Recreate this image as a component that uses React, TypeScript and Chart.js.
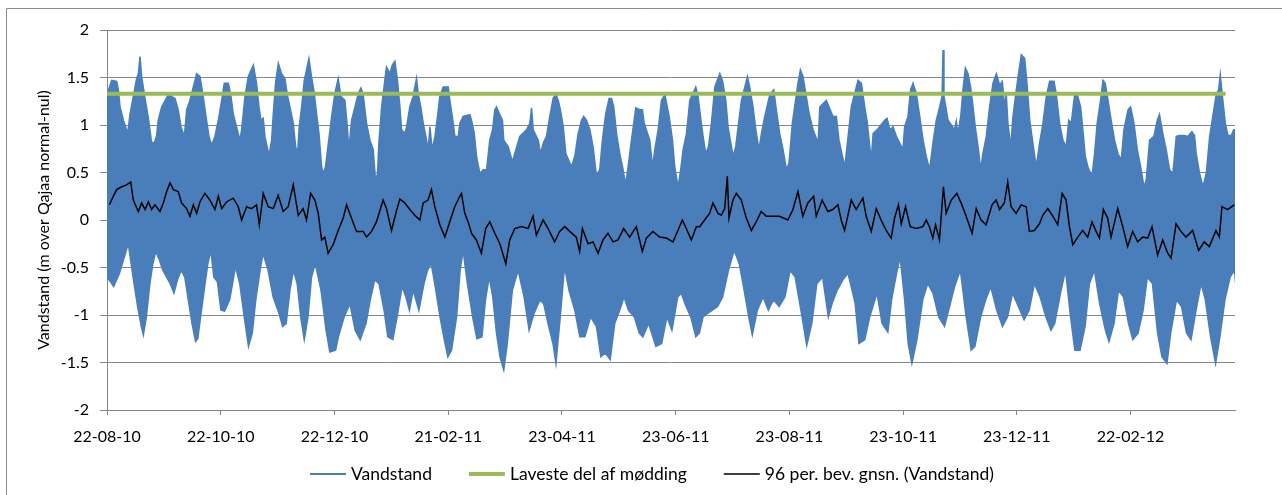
import React, { useEffect, useRef } from 'react';
import { Chart, registerables } from 'chart.js';

Chart.register(...registerables);

// X axis: days since 22-08-10, labels every 61 days
const tickLabels = ['22-08-10', '22-10-10', '22-12-10', '21-02-11', '23-04-11', '23-06-11', '23-08-11', '23-10-11', '23-12-11', '22-02-12'];
const tickStepDays = 61;
const xMaxDays = 605;

// Vandstand: upper envelope (high waters), days / metres
const upperDays = [
  0, 2.5, 5.2, 6.1, 7.0, 8.8, 10.5, 11.1, 12.3, 14.1,
  15.9, 16.8, 17.7, 18.6, 20.4, 22.2, 23.9, 25.4, 26.6, 27.5,
  29.3, 32.9, 36.5, 38.2, 39.7, 41.5, 42.7, 44.5, 46.3, 48.1,
  49.9, 51.6, 53.4, 54.7, 56.1, 57.9, 59.7, 61.5, 62.9, 65.1,
  66.5, 67.7, 69.5, 71.3, 72.2, 74.0, 75.8, 78.5, 80.2, 81.5,
  82.6, 83.8, 84.7, 86.9, 88.3, 89.2, 90.4, 91.9, 93.6, 95.4,
  96.9, 98.1, 99.9, 101.2, 102.2, 103.1, 104.4, 105.8, 108.3, 109.7,
  111.2, 112.4, 113.7, 115.1, 116.0, 117.2, 118.3, 120.5, 122.2, 124.0,
  125.5, 127.6, 128.9, 129.7, 131.2, 133.0, 134.7, 136.2, 137.4, 139.2,
  141.0, 142.8, 144.0, 145.1, 145.8, 147.3, 149.0, 149.9, 151.7, 153.0,
  154.4, 155.8, 157.1, 158.0, 159.8, 160.7, 162.4, 164.2, 166.0, 166.9,
  168.3, 169.6, 171.4, 172.3, 173.2, 174.4, 175.9, 177.3, 178.5, 180.3,
  183.0, 183.9, 185.7, 186.6, 188.4, 189.3, 191.0, 194.6, 195.5, 197.0,
  198.2, 200.0, 201.8, 203.6, 205.3, 206.8, 208.0, 208.9, 211.1, 212.1,
  212.8, 215.2, 217.5, 218.7, 221.4, 225.0, 226.8, 227.7, 228.6, 231.3,
  232.5, 234.0, 235.7, 237.5, 239.3, 240.7, 242.0, 243.2, 244.7, 246.1,
  249.1, 250.9, 252.7, 254.5, 255.7, 257.2, 259.0, 260.7, 262.5, 264.3,
  265.7, 267.5, 269.3, 270.6, 271.8, 273.3, 275.0, 276.8, 278.1, 279.5,
  281.3, 283.6, 285.8, 287.2, 288.1, 291.1, 292.6, 293.8, 295.6, 297.4,
  299.2, 301.5, 303.3, 304.5, 306.3, 307.7, 309.0, 310.8, 312.6, 315.8,
  317.0, 318.3, 319.7, 321.1, 322.6, 324.2, 326.0, 328.7, 330.1, 331.9,
  333.1, 335.8, 337.2, 338.5, 340.3, 343.5, 344.7, 346.5, 348.0, 349.7,
  351.0, 352.8, 355.5, 357.6, 359.0, 360.8, 362.6, 364.4, 365.8, 367.6,
  370.6, 371.9, 373.3, 374.8, 376.6, 378.7, 381.4, 382.3, 385.8, 389.4,
  391.2, 392.6, 395.7, 397.5, 399.2, 401.0, 402.8, 404.6, 406.4, 407.8,
  409.9, 410.9, 413.5, 417.1, 418.4, 419.8, 421.6, 423.4, 426.9, 427.8,
  429.6, 431.0, 432.3, 434.1, 435.9, 437.7, 439.4, 441.2, 443.0, 444.8,
  446.6, 447.9, 448.4, 448.9, 451.1, 454.6, 455.5, 456.4, 457.9, 459.1,
  460.4, 461.8, 463.2, 464.5, 465.7, 467.2, 468.6, 469.8, 471.6, 473.4,
  475.2, 477.0, 478.8, 480.2, 481.4, 482.3, 483.2, 484.7, 485.9, 487.7,
  488.9, 490.4, 492.2, 493.6, 494.9, 496.6, 498.4, 500.2, 502.0, 503.8,
  505.6, 507.9, 509.1, 510.9, 512.7, 514.5, 515.8, 517.2, 519.0, 520.4,
  522.2, 523.4, 524.7, 526.1, 528.3, 529.7, 531.1, 532.9, 534.2, 535.4,
  536.9, 538.6, 540.4, 542.2, 544.0, 545.4, 547.6, 549.0, 550.8, 552.6,
  554.4, 556.2, 557.4, 559.2, 561.5, 563.3, 564.5, 566.3, 568.1, 569.9,
  571.7, 573.5, 575.3, 577.9, 579.7, 581.9, 583.3, 584.2, 586.0, 587.8,
  589.6, 591.4, 593.1, 594.9, 596.2, 597.1, 598.1, 599.8, 601.2, 603.0,
  604.3, 605.6,
];
const upperVals = [
  1.32, 1.47, 1.46, 1.37, 1.19, 1.05, 0.95, 0.91, 1.11, 1.30,
  1.49, 1.54, 1.72, 1.51, 1.28, 1.07, 0.82, 0.81, 0.89, 1.05,
  1.19, 1.32, 1.28, 1.16, 0.98, 0.88, 1.16, 1.26, 1.40, 1.54,
  1.51, 1.30, 1.05, 0.88, 0.79, 0.88, 1.05, 1.26, 1.44, 1.44,
  1.30, 1.12, 0.98, 0.84, 0.95, 1.30, 1.51, 1.63, 1.44, 1.19,
  1.05, 1.07, 0.88, 0.68, 0.84, 1.12, 1.44, 1.65, 1.54, 1.49,
  1.30, 1.19, 1.02, 0.77, 0.70, 0.98, 1.19, 1.47, 1.70, 1.51,
  1.33, 1.12, 0.91, 0.56, 0.49, 0.56, 0.74, 1.09, 1.33, 1.49,
  1.30, 1.26, 0.98, 0.74, 1.05, 1.19, 1.33, 1.39, 1.32, 1.02,
  0.84, 0.74, 0.42, 0.49, 0.81, 1.19, 1.47, 1.61, 1.54, 1.63,
  1.67, 1.47, 1.19, 0.95, 0.91, 0.98, 1.19, 1.30, 1.49, 1.33,
  1.19, 1.02, 0.84, 0.74, 0.98, 0.74, 0.88, 1.09, 1.30, 1.40,
  1.40, 1.26, 1.02, 0.88, 0.88, 1.02, 1.09, 1.11, 1.05, 0.91,
  0.67, 0.49, 0.53, 0.53, 0.84, 0.95, 1.16, 1.19, 1.09, 1.05,
  0.84, 0.77, 0.61, 0.70, 0.88, 0.95, 1.02, 1.18, 0.95, 0.84,
  0.70, 0.81, 0.88, 1.09, 1.28, 1.32, 1.26, 1.16, 0.98, 0.70,
  0.56, 0.67, 0.91, 1.05, 1.09, 1.05, 0.95, 0.77, 0.47, 0.53,
  0.84, 1.12, 1.28, 1.28, 1.19, 0.91, 0.70, 0.53, 0.37, 0.56,
  0.84, 1.18, 1.16, 1.16, 1.02, 0.84, 0.56, 0.74, 0.95, 1.26,
  1.32, 1.09, 0.84, 0.56, 0.35, 0.53, 0.74, 0.91, 1.26, 1.40,
  1.30, 1.09, 0.88, 0.70, 0.77, 1.02, 1.40, 1.54, 1.47, 1.26,
  0.98, 0.67, 0.77, 0.98, 1.26, 1.51, 1.40, 1.19, 0.95, 0.74,
  0.91, 1.09, 1.32, 1.37, 1.16, 0.91, 0.74, 0.53, 0.60, 1.02,
  1.44, 1.58, 1.51, 1.33, 1.12, 0.95, 0.81, 1.19, 1.26, 1.09,
  1.09, 0.84, 0.56, 0.88, 1.19, 1.33, 1.47, 1.44, 1.19, 1.02,
  0.63, 0.91, 0.96, 1.05, 1.07, 0.95, 0.98, 0.88, 0.74, 0.98,
  1.09, 1.37, 1.44, 1.33, 1.09, 0.84, 0.67, 0.53, 0.81, 1.05,
  1.19, 1.30, 1.79, 1.30, 1.05, 0.95, 1.04, 0.91, 1.09, 1.37,
  1.60, 1.54, 1.40, 1.19, 0.98, 0.77, 0.53, 0.70, 0.88, 1.19,
  1.44, 1.54, 1.42, 1.46, 1.19, 1.33, 1.02, 0.77, 1.09, 1.37,
  1.54, 1.74, 1.70, 1.40, 1.05, 0.81, 0.56, 0.81, 1.02, 1.30,
  1.46, 1.46, 1.33, 1.02, 0.84, 0.77, 1.05, 1.02, 1.32, 1.32,
  1.19, 0.95, 0.67, 0.56, 0.46, 0.70, 1.02, 1.26, 1.47, 1.44,
  1.26, 1.05, 0.84, 0.70, 0.63, 0.95, 1.16, 1.19, 1.02, 0.74,
  0.56, 0.35, 0.42, 0.84, 0.88, 1.05, 1.11, 0.91, 0.74, 0.53,
  0.49, 0.88, 0.89, 0.89, 0.88, 0.93, 0.89, 0.70, 0.49, 0.35,
  0.49, 0.88, 1.09, 1.32, 1.37, 1.53, 1.33, 1.02, 0.89, 0.89,
  0.95, 0.95,
];

// Vandstand: lower envelope (low waters), days / metres
const lowerDays = [
  0, 3.6, 6.7, 11.4, 14.5, 16.4, 18.4, 19.5, 21.1, 23.0,
  24.6, 26.2, 28.1, 30.0, 33.9, 35.9, 37.8, 39.8, 41.7, 43.6,
  45.6, 47.5, 48.7, 50.2, 52.6, 54.1, 55.7, 57.3, 59.2, 61.1,
  63.1, 65.8, 67.7, 68.9, 71.2, 73.6, 75.9, 77.9, 79.8, 82.1,
  83.7, 86.4, 89.1, 92.2, 94.2, 96.1, 98.1, 100.0, 102.0, 103.9,
  105.8, 107.8, 109.7, 111.7, 114.8, 117.5, 119.5, 122.6, 124.1, 127.2,
  130.3, 133.1, 135.8, 138.9, 141.2, 143.6, 145.9, 148.6, 150.6, 153.3,
  155.6, 158.3, 160.3, 162.2, 164.2, 167.3, 170.0, 171.9, 173.9, 175.8,
  178.6, 180.9, 182.8, 184.8, 187.5, 189.4, 191.0, 193.3, 196.1, 198.4,
  201.1, 203.0, 205.0, 206.9, 208.9, 210.8, 212.8, 214.7, 217.4, 220.5,
  223.7, 226.4, 229.1, 232.2, 234.2, 236.9, 239.2, 240.8, 243.1, 245.4,
  247.8, 250.9, 253.6, 256.3, 259.4, 262.5, 264.9, 267.2, 269.9, 272.3,
  275.0, 277.3, 279.7, 282.8, 285.5, 287.4, 290.5, 294.4, 297.5, 300.3,
  303.0, 306.1, 308.0, 310.0, 313.1, 315.8, 317.7, 319.7, 322.4, 324.7,
  327.5, 330.2, 333.3, 336.4, 339.1, 341.1, 344.2, 346.1, 348.8, 351.9,
  354.7, 357.4, 360.5, 363.6, 366.4, 369.1, 372.2, 375.3, 378.0, 380.7,
  383.8, 386.9, 388.9, 391.6, 394.7, 397.4, 401.3, 403.3, 406.4, 409.1,
  413.0, 415.7, 418.8, 420.8, 423.5, 425.4, 427.8, 429.7, 431.7, 434.4,
  437.5, 440.2, 443.0, 446.1, 449.2, 451.9, 454.6, 457.7, 460.8, 463.5,
  465.5, 468.6, 471.3, 474.0, 477.2, 480.3, 483.0, 485.7, 488.8, 491.9,
  494.6, 497.4, 500.5, 503.6, 506.3, 508.3, 511.4, 514.1, 516.8, 519.1,
  521.9, 524.6, 526.9, 529.6, 532.4, 535.5, 537.4, 540.1, 542.5, 545.2,
  547.9, 550.2, 553.0, 555.7, 558.0, 560.7, 563.5, 565.8, 568.5, 570.5,
  573.6, 576.3, 579.0, 581.4, 584.1, 586.8, 589.1, 591.9, 594.6, 596.9,
  599.6, 602.4, 604.7, 606.2,
];
const lowerVals = [
  -0.60, -0.70, -0.56, -0.25, -0.67, -0.91, -1.12, -1.21, -1.02, -0.67,
  -0.46, -0.33, -0.42, -0.53, -0.67, -0.77, -0.63, -0.53, -0.60, -0.84,
  -1.09, -1.28, -1.25, -1.02, -0.67, -0.46, -0.32, -0.60, -0.65, -0.95,
  -0.96, -0.84, -0.63, -0.49, -0.67, -1.02, -1.33, -1.19, -0.84, -0.53,
  -0.35, -0.53, -0.81, -0.98, -1.12, -1.09, -0.74, -0.53, -0.67, -1.02,
  -1.26, -1.02, -0.60, -0.46, -0.74, -1.16, -1.39, -1.37, -1.23, -1.02,
  -0.88, -1.16, -1.26, -1.09, -0.84, -0.63, -0.67, -0.95, -1.23, -1.26,
  -1.02, -0.70, -0.81, -0.95, -0.74, -0.95, -0.67, -0.53, -0.46, -0.67,
  -1.02, -1.26, -1.44, -1.37, -1.02, -0.53, -0.32, -0.67, -1.02, -1.25,
  -1.23, -0.84, -0.60, -0.81, -1.19, -1.44, -1.58, -1.30, -0.74, -0.53,
  -0.81, -1.16, -0.98, -0.84, -0.88, -1.12, -1.30, -1.51, -1.02, -0.49,
  -0.74, -0.95, -1.23, -1.23, -1.02, -1.12, -1.44, -1.40, -1.47, -1.09,
  -0.95, -0.81, -0.95, -1.02, -1.19, -1.23, -1.09, -1.33, -1.30, -1.02,
  -1.16, -0.81, -0.77, -0.88, -1.02, -1.23, -1.19, -1.02, -0.98, -0.95,
  -0.91, -0.81, -0.53, -0.32, -0.46, -0.67, -1.02, -1.21, -0.95, -0.81,
  -0.95, -0.84, -0.91, -0.81, -0.53, -0.60, -0.95, -1.32, -1.09, -0.67,
  -0.60, -1.02, -0.88, -0.74, -0.63, -0.56, -0.88, -1.30, -1.26, -1.02,
  -0.77, -1.09, -1.18, -0.84, -0.56, -0.39, -0.84, -1.30, -1.51, -1.26,
  -0.84, -0.67, -0.77, -1.02, -1.12, -0.91, -0.70, -0.53, -1.02, -1.37,
  -1.33, -1.02, -0.84, -0.70, -0.95, -1.12, -1.02, -0.77, -0.91, -1.05,
  -0.95, -0.67, -0.81, -1.02, -1.16, -1.09, -0.77, -0.53, -1.02, -1.37,
  -1.37, -1.12, -0.67, -0.53, -0.88, -1.16, -1.28, -1.09, -0.74, -0.81,
  -1.09, -1.26, -1.19, -0.95, -0.60, -0.67, -1.19, -1.44, -1.51, -1.19,
  -0.84, -0.91, -1.19, -1.26, -0.95, -0.67, -0.84, -1.23, -1.51, -1.23,
  -0.84, -0.60, -0.53, -0.84,
];

// Laveste del af mødding
const moddingDays = [0, 600];
const moddingVals = [1.33, 1.33];

// 96 per. bev. gnsn. (Vandstand)
const avgDays = [
  1.3, 3.4, 5.2, 7.9, 10.5, 12.7, 14.1, 16.8, 18.6, 20.4, 22.2, 23.9, 25.7, 28.4, 30.2, 32.0, 33.8, 35.6, 38.2, 40.0,
  42.7, 44.5, 46.3, 48.1, 49.8, 52.5, 55.2, 57.9, 59.7, 61.5, 64.1, 67.7, 70.4, 72.2, 74.9, 77.5, 80.2, 81.7, 83.8, 86.5,
  89.2, 91.8, 94.5, 97.2, 99.9, 102.6, 105.2, 107.0, 109.2, 111.5, 113.3, 115.1, 116.8, 118.6, 121.3, 124.0, 126.7, 128.5, 131.1, 133.8,
  137.4, 139.2, 141.9, 144.5, 148.1, 149.9, 152.6, 155.3,
  157.1, 159.7, 162.4, 165.1, 167.8, 169.6, 172.2, 174.0, 175.8, 178.5, 181.2, 183.8, 186.5, 189.2, 190.1, 191.9, 193.7, 195.5, 198.1, 200.8,
  203.1, 205.3, 208.0, 210.7, 213.9, 216.0, 218.7, 222.3, 225.8, 228.5, 230.3, 233.9, 236.6, 240.1, 242.8, 245.5, 248.2, 251.7, 253.5, 255.0,
  258.0, 260.7, 263.4, 266.0, 268.7, 271.4, 274.1, 277.1, 280.3, 283.9, 287.1, 289.3, 292.8, 296.4, 300.0, 303.6, 306.2, 308.6, 310.7, 313.4,
  316.1,
  317.9, 320.5, 323.2, 325.0, 327.7, 329.5, 331.3, 332.7, 333.6, 335.7, 337.5, 340.2, 342.9, 345.6, 348.2, 350.9, 353.6, 357.2, 360.7, 365.2,
  367.9, 370.6, 373.2, 375.9, 379.0, 380.4, 383.6, 386.6, 389.3, 392.0, 393.8, 395.6, 399.2, 401.8, 405.4, 407.2, 409.9, 412.6, 415.2, 417.9,
  420.6, 422.4, 424.5, 426.0, 428.3, 430.8, 434.0, 437.6, 439.4, 441.1, 442.9, 444.4, 446.5, 448.6, 450.1, 452.8, 455.8, 458.1, 460.8, 464.0,
  466.2, 468.8, 471.5, 474.7, 476.9, 478.7,
  481.3, 483.1, 484.9, 487.6, 490.3, 493.0, 494.7, 497.4, 500.1, 501.9, 504.6, 507.3, 509.9, 512.3, 514.4, 516.2, 518.0, 520.7, 523.3, 526.0,
  528.3, 530.5, 532.3, 534.4, 536.7, 538.5, 542.1, 544.8, 547.4, 550.1, 552.8, 555.5, 558.2, 560.5, 563.5, 566.2, 568.9, 570.7, 573.4, 576.0,
  578.7, 582.3, 585.5, 588.5, 591.2, 594.8, 596.6, 598.0, 601.0, 604.6,
];
const avgVals = [
  0.16, 0.25, 0.32, 0.35, 0.37, 0.40, 0.21, 0.09, 0.18, 0.11, 0.19, 0.11, 0.16, 0.09, 0.18, 0.30, 0.39, 0.32, 0.30, 0.18,
  0.12, 0.04, 0.16, 0.07, 0.19, 0.28, 0.21, 0.11, 0.25, 0.12, 0.19, 0.23, 0.14, 0.00, 0.14, 0.12, 0.16, -0.05, 0.28, 0.14,
  0.12, 0.26, 0.09, 0.14, 0.37, 0.05, 0.12, 0.00, 0.28, 0.21, 0.07, -0.21, -0.18, -0.35, -0.26, -0.11, 0.02, 0.16, 0.02, -0.12,
  -0.12, -0.18, -0.12, -0.02, 0.21, 0.12, -0.11, 0.10,
  0.22, 0.18, 0.11, 0.05, 0.00, 0.18, 0.21, 0.32, 0.14, -0.05, -0.18, -0.02, 0.14, 0.25, 0.28, 0.07, -0.02, -0.14, -0.21, -0.35,
  -0.09, -0.02, -0.14, -0.25, -0.46, -0.21, -0.09, -0.07, -0.09, 0.04, -0.16, 0.00, -0.09, -0.23, -0.12, -0.07, -0.12, -0.18, -0.33, -0.09,
  -0.25, -0.23, -0.35, -0.21, -0.14, -0.23, -0.21, -0.09, -0.18, -0.07, -0.33, -0.19, -0.12, -0.18, -0.19, -0.23, -0.11, 0.00, -0.09, -0.21,
  -0.07,
  -0.07, 0.00, 0.07, 0.18, 0.07, 0.05, 0.12, 0.46, 0.02, 0.21, 0.28, 0.21, 0.02, -0.11, -0.02, 0.09, 0.04, 0.04, 0.04, 0.00,
  0.11, 0.30, 0.04, 0.18, 0.25, 0.04, 0.21, 0.09, 0.11, 0.16, 0.00, -0.11, 0.21, 0.11, 0.23, 0.04, -0.12, 0.12, 0.00, -0.11,
  -0.19, 0.02, 0.16, -0.04, 0.14, -0.07, -0.09, -0.07, 0.00, -0.07, -0.19, -0.05, -0.21, 0.35, 0.07, 0.21, 0.28, 0.18, 0.04, -0.14,
  0.12, 0.00, -0.05, 0.16, 0.21, 0.11,
  0.18, 0.40, 0.14, 0.07, 0.16, 0.14, -0.12, -0.11, -0.04, 0.05, 0.12, 0.04, -0.05, 0.28, 0.21, -0.07, -0.26, -0.18, -0.11, -0.18,
  -0.02, -0.12, -0.19, 0.11, 0.02, -0.18, 0.12, -0.07, -0.28, -0.12, -0.23, -0.18, -0.19, -0.07, -0.37, -0.21, -0.35, -0.40, -0.04, -0.12,
  -0.18, -0.11, -0.32, -0.23, -0.28, -0.11, -0.18, 0.14, 0.11, 0.16,
];

const BLUE = '#4a7ebb';
const GREEN = '#9bbb59';
const GRID = '#868686';
const FONT = { family: 'Lato', size: 16 };
const LEGEND_FONT_CSS = '17.5px Lato';
const LEGEND_KEY = 36;
const LEGEND_KEY_GAP = 5;
const LEGEND_ITEM_GAP = 37;
const LEGEND_CENTER_X = 652;
const LEGEND_Y = 474;
const X_AXIS_H = 40;

const toPoints = (xs: number[], ys: number[]) => xs.map((x, i) => ({ x, y: ys[i] }));

// frame + legend row (keys are short line segments in each series' colour and width)
const framePlugin = {
  id: 'frame',
  beforeDraw(chart: any) {
    const { ctx, width, height } = chart;
    ctx.save();
    ctx.fillStyle = '#ffffff';
    ctx.fillRect(0, 0, width, height);
    ctx.strokeStyle = '#8a8a8a';
    ctx.lineWidth = 1;
    ctx.beginPath();
    ctx.moveTo(6.5, height);
    ctx.lineTo(6.5, 8.5);
    ctx.lineTo(width, 8.5);
    ctx.stroke();
    ctx.restore();
  },
  afterDraw(chart: any) {
    const { ctx } = chart;
    const items = chart.data.datasets
      .filter((ds: any) => ds.legendKey)
      .map((ds: any) => ({ text: ds.label, color: ds.borderColor, width: ds.legendKey }));
    ctx.save();
    ctx.font = LEGEND_FONT_CSS;
    const textW = items.map((it: any) => ctx.measureText(it.text).width);
    const total =
      textW.reduce((a: number, b: number) => a + b, 0) +
      items.length * (LEGEND_KEY + LEGEND_KEY_GAP) +
      (items.length - 1) * LEGEND_ITEM_GAP;
    let x = Math.round(LEGEND_CENTER_X - total / 2);
    ctx.textBaseline = 'middle';
    ctx.textAlign = 'left';
    items.forEach((it: any, i: number) => {
      ctx.strokeStyle = it.color;
      ctx.lineWidth = it.width;
      ctx.beginPath();
      ctx.moveTo(x, LEGEND_Y);
      ctx.lineTo(x + LEGEND_KEY, LEGEND_Y);
      ctx.stroke();
      ctx.fillStyle = '#000000';
      ctx.fillText(it.text, x + LEGEND_KEY + LEGEND_KEY_GAP, LEGEND_Y);
      x += LEGEND_KEY + LEGEND_KEY_GAP + textW[i] + LEGEND_ITEM_GAP;
    });
    ctx.restore();
  },
};

export default function App() {
  const ref = useRef<HTMLCanvasElement>(null);

  useEffect(() => {
    const canvas = ref.current;
    if (!canvas) return;
    const chart = new Chart(canvas, {
      type: 'line',
      data: {
        datasets: [
          {
            label: 'Vandstand',
            data: toPoints(upperDays, upperVals),
            borderColor: BLUE,
            backgroundColor: BLUE,
            borderWidth: 1.5,
            fill: 'origin',
            order: 3,
            legendKey: 2,
          } as any,
          {
            label: 'Vandstand (lavvande)',
            data: toPoints(lowerDays, lowerVals),
            borderColor: BLUE,
            backgroundColor: BLUE,
            borderWidth: 1.5,
            fill: 'origin',
            order: 3,
          },
          {
            label: 'Laveste del af mødding',
            data: toPoints(moddingDays, moddingVals),
            borderColor: GREEN,
            backgroundColor: GREEN,
            borderWidth: 4,
            fill: false,
            order: 2,
            legendKey: 4,
          } as any,
          {
            label: '96 per. bev. gnsn. (Vandstand)',
            data: toPoints(avgDays, avgVals),
            borderColor: '#000000',
            backgroundColor: '#000000',
            borderWidth: 1.5,
            fill: false,
            order: 1,
            legendKey: 1.5,
          } as any,
        ],
      },
      options: {
        responsive: false,
        animation: false,
        devicePixelRatio: 1,
        events: [],
        layout: { padding: { left: 30, right: 47, top: 30, bottom: 45 } },
        elements: {
          point: { radius: 0, hoverRadius: 0 },
          line: { tension: 0 },
        },
        plugins: {
          legend: { display: false },
          tooltip: { enabled: false },
        },
        scales: {
          x: {
            type: 'linear',
            min: 0,
            max: xMaxDays,
            afterFit: (s: any) => {
              s.height = X_AXIS_H;
            },
            grid: { drawOnChartArea: false, tickLength: 5, color: GRID },
            border: { color: GRID },
            ticks: {
              stepSize: tickStepDays,
              includeBounds: false,
              autoSkip: false,
              maxRotation: 0,
              padding: 12,
              color: '#000000',
              font: FONT,
              callback: (v: any) => tickLabels[Math.round(Number(v) / tickStepDays)] ?? '',
            },
          },
          y: {
            min: -2,
            max: 2,
            afterFit: (s: any) => {
              s.width = 77;
            },
            grid: { color: GRID, tickLength: 7 },
            border: { color: GRID },
            ticks: {
              stepSize: 0.5,
              padding: 11,
              color: '#000000',
              font: FONT,
              callback: (v: any) => String(v),
            },
            title: {
              display: true,
              text: 'Vandstand (m over Qajaa normal-nul)',
              color: '#000000',
              font: FONT,
              padding: 4,
            },
          },
        },
      },
      plugins: [framePlugin],
    });
    return () => chart.destroy();
  }, []);

  return (
    <div style={{ position: 'fixed', left: 0, top: 0, width: 1282, height: 495, background: '#ffffff' }}>
      <canvas ref={ref} width={1282} height={495} style={{ display: 'block' }} />
    </div>
  );
}
